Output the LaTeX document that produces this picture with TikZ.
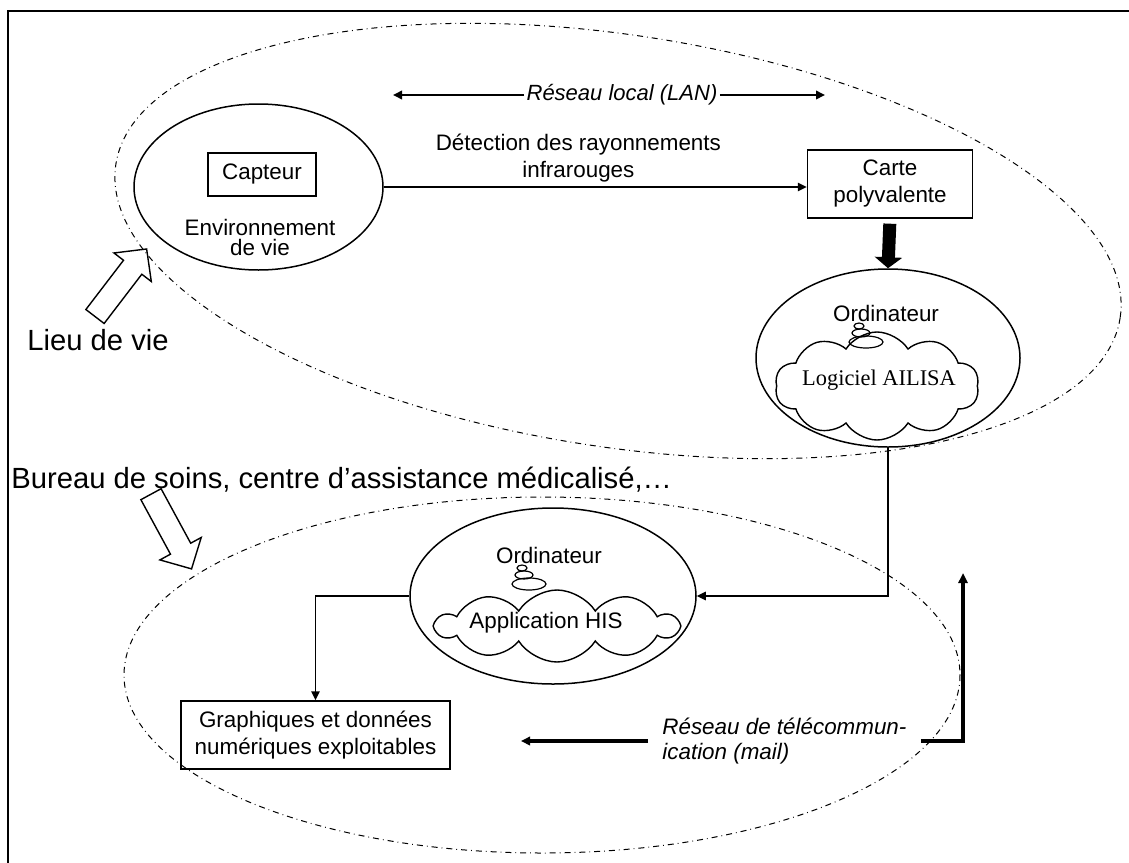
\documentclass[tikz,border=0pt]{standalone}
\usepackage{fontspec}
\setmainfont{Liberation Sans}
\newfontfamily\timesfont{Liberation Serif}
\usetikzlibrary{shapes.geometric,shapes.symbols,arrows.meta}

\tikzset{
	boite/.style={draw, line width=0.7pt, inner sep=0pt, align=center},
	ovale/.style={draw, ellipse, line width=0.75pt, inner sep=0pt},
	nuage/.style={draw, cloud, cloud puffs=10, cloud puff arc=115, cloud ignores aspect, line width=0.7pt, inner sep=0pt},
	zone/.style={dash dot, line width=0.5pt},
	bulle/.style={line width=0.6pt},
	grand/.style={font=\fontsize{14.6}{16}\selectfont, anchor=base west, inner sep=0pt}
}

\begin{document}
\begin{tikzpicture}[x=0.5pt, y=-0.5pt, >={Triangle[length=4.5pt,width=4.2pt]}, font=\fontsize{11.2}{13.5}\selectfont]
	\def\W{1129} \def\H{862}
	\fill[white] (0,0) rectangle (\W,\H);
	\useasboundingbox (0,0) rectangle (\W,\H);
	\clip (0,0) rectangle (\W,\H);
	% cadre
	\draw[line width=1pt] (8,\H+20) -- (8,11) -- (\W+20,11);
	% zones
	\draw[zone, rotate around={-8.7:(618,241)}] (618,241) ellipse [x radius=508, y radius=206];
	\draw[zone] (542,675) ellipse [x radius=418, y radius=178];
	% lieu de vie
	\node[ovale, minimum width=124.5pt, minimum height=83pt] (envie) at (258.5,187) {};
	\node[boite, minimum width=54pt, minimum height=21.5pt] (capteur) at (262,174.5) {Capteur};
	\node[align=center, font=\fontsize{11.2}{10}\selectfont] (envtxt) at (260,237) {Environnement\\de vie};
	\node[boite, minimum width=82.5pt, minimum height=34pt] (carte) at (890,184) {Carte\\polyvalente};
	\draw[->, line width=0.8pt] (envie.east) -- (envie.east -| carte.west)
		node[pos=0.46, above=1pt, align=center, inner sep=1pt] {Détection des rayonnements\\infrarouges};
	\node[font=\fontsize{11}{12}\selectfont\itshape, inner xsep=1pt] (lan) at (622,95) {Réseau local (LAN)};
	\coordinate (lanG) at (393,95);
	\coordinate (lanD) at (825,95);
	\draw[->, line width=1.4pt] (lan.west) -- (lanG);
	\draw[->, line width=1.4pt] (lan.east) -- (lanD);
	% ordinateurs
	\node[ovale, minimum width=132pt, minimum height=89pt] (ordi1) at (888,358) {};
	\draw[-{Triangle[length=5.5pt,width=13.5pt]}, line width=6.5pt, shorten <=2.5pt] (carte.south) -- (ordi1.north);
	\node (ordtxt1) at (886,313) {Ordinateur};
	\node[nuage, minimum width=102pt, minimum height=54pt] (logi) at (877,386) {};
	\node[font=\timesfont\fontsize{11.2}{13}\selectfont] (logtxt) at (879,380) {Logiciel AILISA};
	\node[ovale, minimum width=143pt, minimum height=88pt] (ordi2) at (553,596) {};
	\node (ordtxt2) at (549,555) {Ordinateur};
	\node[nuage, minimum width=120.5pt, minimum height=36pt] (his) at (557,626) {};
	\node (histxt) at (546,623) {Application HIS};
	\foreach \o in {ordtxt1,ordtxt2}{
		\draw[bulle] ([shift={(-27,13)}]\o) ellipse [x radius=5, y radius=3];
		\draw[bulle] ([shift={(-25,20)}]\o) ellipse [x radius=9, y radius=4];
		\draw[bulle] ([shift={(-20,29)}]\o) ellipse [x radius=17, y radius=6];
	}
	% bureau de soins
	\node[boite, minimum width=134.5pt, minimum height=34pt] (graph) at (315.5,735) {Graphiques et données\\numériques exploitables};
	\draw[->, line width=0.8pt] (ordi1.south) |- (ordi2.east);
	\draw[->, line width=0.8pt] (ordi2.west) -| (graph.north);
	\node[font=\fontsize{11.2}{12.5}\selectfont\itshape, align=left, inner xsep=7pt, anchor=west] (mail) at (648,741) {Réseau de télécommun-\\ication (mail)};
	\coordinate (mailG) at (521,741);
	\coordinate (mailH) at (963,573);
	\draw[->, line width=1.6pt] (mail.west) -- (mailG);
	\draw[-{Triangle[length=5pt,width=4.5pt]}, line width=2.4pt] (mail.east) -| (mailH);
	% textes et fleches creuses
	\node[grand] (lieu) at (27,350) {Lieu de vie};
	\node[grand] (bureau) at (11,488) {Bureau de soins, centre d’assistance médicalisé,…};
	\foreach \xa/\ya/\ang in {95/316.5/52.6, 151/494.2/-61.5}
		\draw[line width=0.7pt, shift={(\xa,\ya)}, rotate=\ang] (0,-11.5) -- (62,-11.5) -- (62,-23.5) -- (85,0) -- (62,23.5) -- (62,11.5) -- (0,11.5) -- cycle;
\end{tikzpicture}
\end{document}
